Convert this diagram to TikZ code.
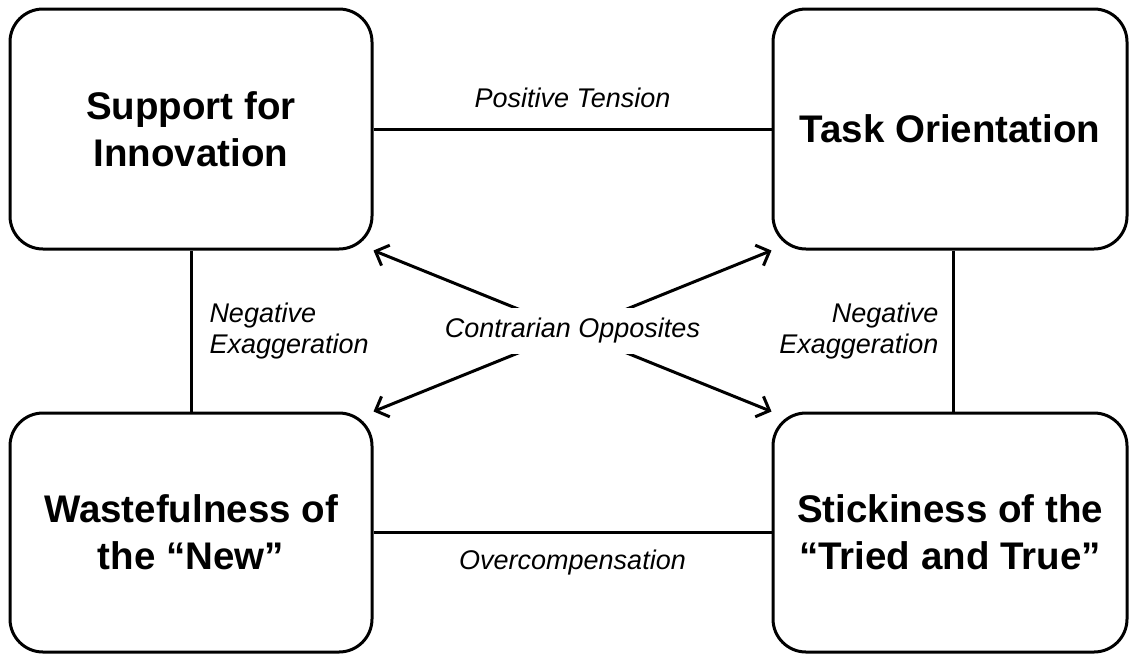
\documentclass[tikz,border=0pt]{standalone}
\usepackage{fontspec}
\setmainfont{Liberation Sans}
\usetikzlibrary{arrows.meta}
\tikzset{
  box/.style={draw, line width=3pt, rounded corners=33pt, minimum height=240pt,
    align=center, font=\bfseries\fontsize{38.5}{47}\selectfont},
  tie/.style={line width=3pt},
  oppo/.style={line width=3pt, {Straight Barb[length=11pt,width=22pt]}-{Straight Barb[length=11pt,width=22pt]}},
  lbl/.style={inner sep=0pt, font=\itshape\fontsize{27}{31}\selectfont}
}
\begin{document}
\begin{tikzpicture}[x=1pt, y=-1pt]
    \useasboundingbox (0,0) rectangle (1129,654);
    \node [box, minimum width=362pt] (sup) at (191,129) {Support for\\Innovation};
    \node [box, minimum width=354pt] (task) at (950,129) {Task Orientation};
    \node [box, minimum width=362pt, minimum height=239pt] (waste) at (191,532.5) {Wastefulness of\\the ``New''};
    \node [box, minimum width=354pt, minimum height=239pt] (stick) at (950,532.5) {Stickiness of the\\``Tried and True''};
    \draw [tie] (sup) -- (task) node [lbl, midway, anchor=base, yshift=22pt] {Positive Tension};
    \draw [tie] (waste) -- (stick) node [lbl, midway, anchor=base, yshift=-37pt] {Overcompensation};
    \draw [tie] (sup) -- (waste) node [lbl, midway, anchor=west, xshift=17pt, align=left] {Negative\\Exaggeration};
    \draw [tie] ([xshift=3pt]task.south) -- ([xshift=3pt]stick.north) node [lbl, midway, anchor=east, xshift=-13pt, align=right] {Negative\\Exaggeration};
    \draw [oppo] (sup.south east) -- (stick.north west) coordinate [midway] (mid);
    \draw [oppo] (task.south west) -- (waste.north east);
    \node [lbl, fill=white, inner xsep=4pt, inner ysep=10pt] (contra) at (mid) {Contrarian Opposites};
  \end{tikzpicture}
\end{document}
